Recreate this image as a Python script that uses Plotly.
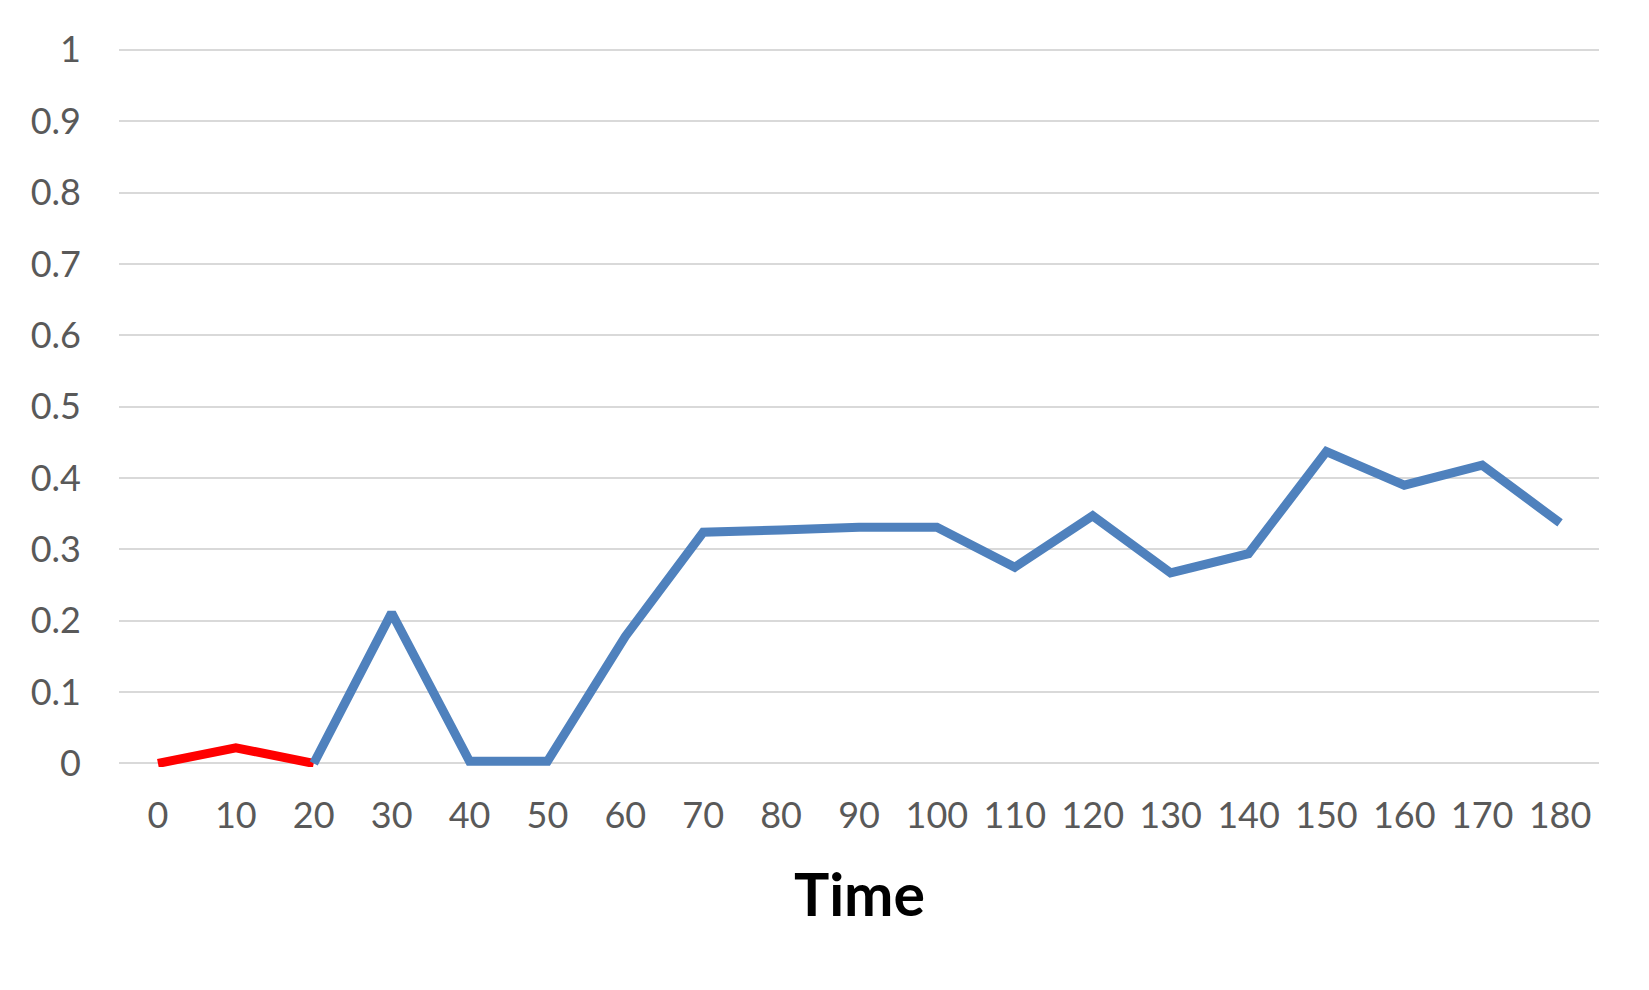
import plotly.graph_objects as go

time_labels = ["0", "10", "20", "30", "40", "50", "60", "70", "80", "90", "100",
               "110", "120", "130", "140", "150", "160", "170", "180"]

red_times = ["0", "10", "20"]
red_values = [0.0, 0.022, 0.0]

blue_times = ["20", "30", "40", "50", "60", "70", "80", "90", "100", "110",
              "120", "130", "140", "150", "160", "170", "180"]
blue_values = [0.0, 0.211, 0.003, 0.003, 0.178, 0.324, 0.327, 0.331, 0.331, 0.275,
               0.347, 0.267, 0.294, 0.437, 0.390, 0.418, 0.337]

y_ticks = [0, 0.1, 0.2, 0.3, 0.4, 0.5, 0.6, 0.7, 0.8, 0.9, 1]
y_tick_text = ["0", "0.1", "0.2", "0.3", "0.4", "0.5", "0.6", "0.7", "0.8", "0.9", "1"]

fig = go.Figure()
fig.add_trace(go.Scatter(x=red_times, y=red_values, mode="lines",
                         line=dict(color="#FF0000", width=9), showlegend=False))
fig.add_trace(go.Scatter(x=blue_times, y=blue_values, mode="lines",
                         line=dict(color="#4F81BD", width=9), showlegend=False))

tick_font = dict(family="Lato", size=36, color="#595959")

fig.update_layout(
    width=1649, height=990,
    margin=dict(l=111, r=58, t=39, b=231),
    paper_bgcolor="white", plot_bgcolor="white",
    xaxis=dict(type="category", categoryorder="array", categoryarray=time_labels,
               range=[-0.5, 18.5], showgrid=False, showline=False, zeroline=False,
               ticks="", tickfont=tick_font, ticklabelstandoff=24, fixedrange=True),
    yaxis=dict(range=[-0.005, 1.004], tickvals=y_ticks, ticktext=y_tick_text,
               showgrid=True, gridcolor="#D9D9D9", gridwidth=2, zeroline=False,
               showline=False, ticks="", tickfont=tick_font, ticklabelstandoff=37,
               fixedrange=True),
    annotations=[dict(text="<b>Time</b>", xref="paper", yref="paper", x=0.5, y=-0.1757,
                      xanchor="center", yanchor="middle", showarrow=False,
                      font=dict(family="Lato", size=59, color="#000000"))],
)

fig.write_html("out.html")
